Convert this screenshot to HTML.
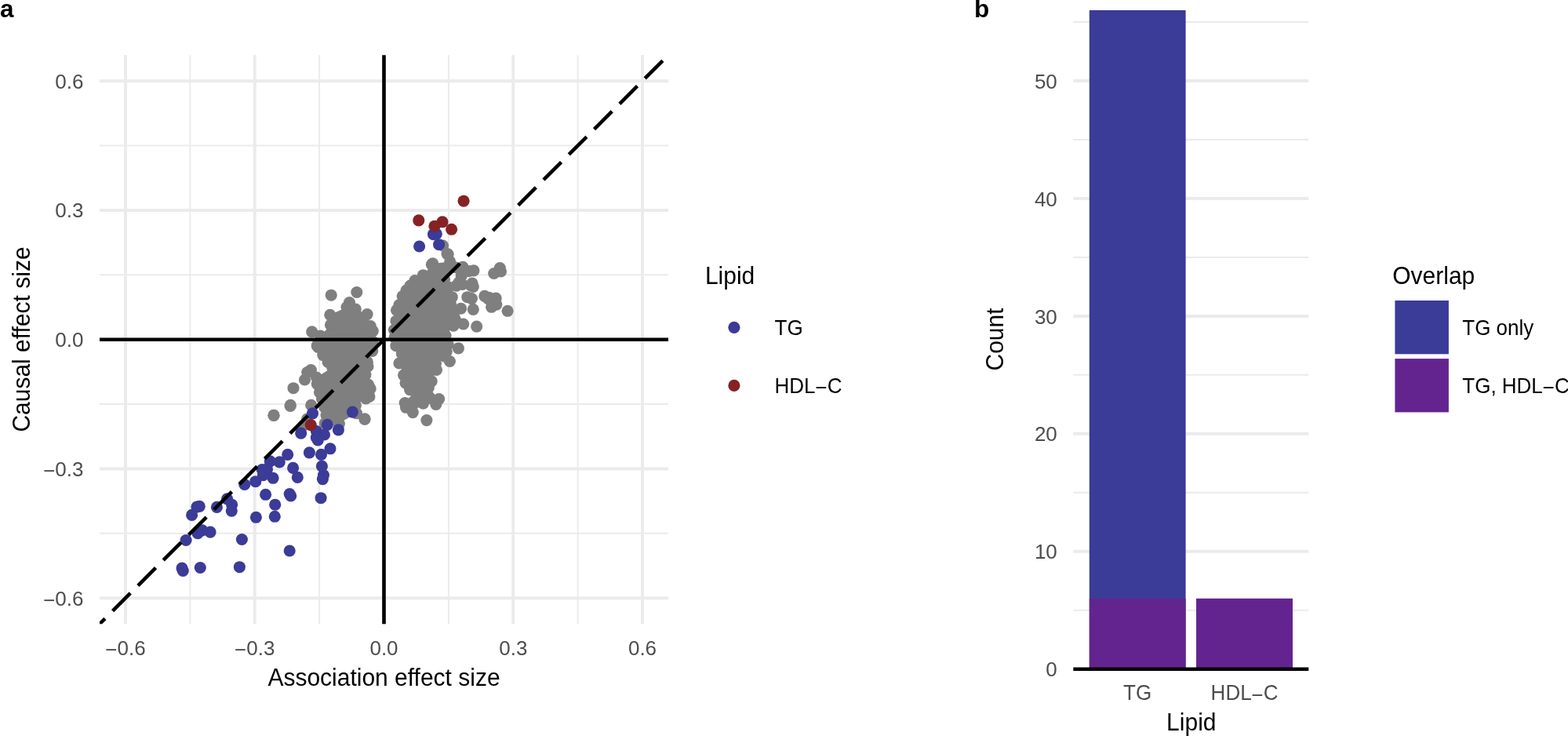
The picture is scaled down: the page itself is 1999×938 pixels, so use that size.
<!DOCTYPE html>
<html lang="en">
<head>
<meta charset="utf-8">
<title>Lipid causal vs association effect sizes</title>
<style>
html,body{margin:0;padding:0;background:#fff;}
body{width:1999px;height:938px;overflow:hidden;}
svg{display:block;}
</style>
</head>
<body>
<svg width="1999" height="938" viewBox="0 0 1999 938">
<rect width="1999" height="938" fill="#fff"/>
<g stroke="#ebebeb" fill="none">
<path d="M242.36 70.2V795.2" stroke-width="2"/>
<path d="M127.0 679.84H852.0" stroke-width="2"/>
<path d="M407.12 70.2V795.2" stroke-width="2"/>
<path d="M127.0 515.08H852.0" stroke-width="2"/>
<path d="M571.88 70.2V795.2" stroke-width="2"/>
<path d="M127.0 350.32H852.0" stroke-width="2"/>
<path d="M736.64 70.2V795.2" stroke-width="2"/>
<path d="M127.0 185.56H852.0" stroke-width="2"/>
<path d="M159.98 70.2V795.2" stroke-width="4"/>
<path d="M127.0 762.22H852.0" stroke-width="4"/>
<path d="M324.74 70.2V795.2" stroke-width="4"/>
<path d="M127.0 597.46H852.0" stroke-width="4"/>
<path d="M489.50 70.2V795.2" stroke-width="4"/>
<path d="M127.0 432.70H852.0" stroke-width="4"/>
<path d="M654.26 70.2V795.2" stroke-width="4"/>
<path d="M127.0 267.94H852.0" stroke-width="4"/>
<path d="M819.02 70.2V795.2" stroke-width="4"/>
<path d="M127.0 103.18H852.0" stroke-width="4"/>
</g>
<g fill="#7f7f7f">
<path d="M445.5 385.5L453.3 394.1L468.1 400.6L472.2 415.5L475.3 421.8L475.0 435.0L474.7 447.5L468.4 461.4L469.0 467.0L465.9 477.7L469.7 490.3L472.2 495.4L470.9 505.4L466.5 507.9L453.3 516.7L454.6 526.8L431.9 539.4L414.3 539.4L416.0 529.0L413.8 519.0L410.5 508.5L407.5 500.0L404.3 489.5L403.5 481.0L423.7 468.3L418.1 461.4L411.8 452.6L405.5 442.5L404.2 440.7L408.6 428.1L421.5 414.2L420.8 401.3L442.0 391.6Z"/>
<path d="M539.5 350.7L529.0 357.5L523.0 364.0L518.0 370.0L513.2 377.5L509.0 388.5L505.5 395.4L504.9 409.2L502.4 420.5L504.9 440.7L512.4 450.7L508.9 463.0L514.6 478.1L517.1 488.2L522.5 496.6L526.3 525.6L539.5 514.2L555.8 515.5L559.6 508.6L546.4 494.1L550.2 485.9L556.5 471.5L555.5 463.0L569.3 448.0L568.1 427.8L578.1 415.2L573.1 405.2L587.6 393.2L574.4 387.5L571.8 378.1L572.0 366.0L566.5 356.0L567.0 345.0L573.7 333.4L551.7 335.9Z"/>
<circle cx="445.5" cy="385.5" r="7.55"/>
<circle cx="453.3" cy="394.1" r="7.55"/>
<circle cx="468.1" cy="400.6" r="7.55"/>
<circle cx="472.2" cy="415.5" r="7.55"/>
<circle cx="475.3" cy="421.8" r="7.55"/>
<circle cx="475.0" cy="435.0" r="7.55"/>
<circle cx="474.7" cy="447.5" r="7.55"/>
<circle cx="468.4" cy="461.4" r="7.55"/>
<circle cx="469.0" cy="467.0" r="7.55"/>
<circle cx="465.9" cy="477.7" r="7.55"/>
<circle cx="469.7" cy="490.3" r="7.55"/>
<circle cx="472.2" cy="495.4" r="7.55"/>
<circle cx="470.9" cy="505.4" r="7.55"/>
<circle cx="466.5" cy="507.9" r="7.55"/>
<circle cx="453.3" cy="516.7" r="7.55"/>
<circle cx="454.6" cy="526.8" r="7.55"/>
<circle cx="431.9" cy="539.4" r="7.55"/>
<circle cx="414.3" cy="539.4" r="7.55"/>
<circle cx="416.0" cy="529.0" r="7.55"/>
<circle cx="413.8" cy="519.0" r="7.55"/>
<circle cx="410.5" cy="508.5" r="7.55"/>
<circle cx="407.5" cy="500.0" r="7.55"/>
<circle cx="404.3" cy="489.5" r="7.55"/>
<circle cx="403.5" cy="481.0" r="7.55"/>
<circle cx="423.7" cy="468.3" r="7.55"/>
<circle cx="418.1" cy="461.4" r="7.55"/>
<circle cx="411.8" cy="452.6" r="7.55"/>
<circle cx="405.5" cy="442.5" r="7.55"/>
<circle cx="404.2" cy="440.7" r="7.55"/>
<circle cx="408.6" cy="428.1" r="7.55"/>
<circle cx="421.5" cy="414.2" r="7.55"/>
<circle cx="420.8" cy="401.3" r="7.55"/>
<circle cx="442.0" cy="391.6" r="7.55"/>
<circle cx="539.5" cy="350.7" r="7.55"/>
<circle cx="529.0" cy="357.5" r="7.55"/>
<circle cx="523.0" cy="364.0" r="7.55"/>
<circle cx="518.0" cy="370.0" r="7.55"/>
<circle cx="513.2" cy="377.5" r="7.55"/>
<circle cx="509.0" cy="388.5" r="7.55"/>
<circle cx="505.5" cy="395.4" r="7.55"/>
<circle cx="504.9" cy="409.2" r="7.55"/>
<circle cx="502.4" cy="420.5" r="7.55"/>
<circle cx="504.9" cy="440.7" r="7.55"/>
<circle cx="512.4" cy="450.7" r="7.55"/>
<circle cx="508.9" cy="463.0" r="7.55"/>
<circle cx="514.6" cy="478.1" r="7.55"/>
<circle cx="517.1" cy="488.2" r="7.55"/>
<circle cx="522.5" cy="496.6" r="7.55"/>
<circle cx="526.3" cy="525.6" r="7.55"/>
<circle cx="539.5" cy="514.2" r="7.55"/>
<circle cx="555.8" cy="515.5" r="7.55"/>
<circle cx="559.6" cy="508.6" r="7.55"/>
<circle cx="546.4" cy="494.1" r="7.55"/>
<circle cx="550.2" cy="485.9" r="7.55"/>
<circle cx="556.5" cy="471.5" r="7.55"/>
<circle cx="555.5" cy="463.0" r="7.55"/>
<circle cx="569.3" cy="448.0" r="7.55"/>
<circle cx="568.1" cy="427.8" r="7.55"/>
<circle cx="578.1" cy="415.2" r="7.55"/>
<circle cx="573.1" cy="405.2" r="7.55"/>
<circle cx="587.6" cy="393.2" r="7.55"/>
<circle cx="574.4" cy="387.5" r="7.55"/>
<circle cx="571.8" cy="378.1" r="7.55"/>
<circle cx="572.0" cy="366.0" r="7.55"/>
<circle cx="566.5" cy="356.0" r="7.55"/>
<circle cx="567.0" cy="345.0" r="7.55"/>
<circle cx="573.7" cy="333.4" r="7.55"/>
<circle cx="551.7" cy="335.9" r="7.55"/>
<circle cx="422.2" cy="376.2" r="7.55"/>
<circle cx="454.8" cy="372.5" r="7.55"/>
<circle cx="397.7" cy="422.8" r="7.55"/>
<circle cx="391.7" cy="474.6" r="7.55"/>
<circle cx="396.4" cy="471.5" r="7.55"/>
<circle cx="388.5" cy="484.0" r="7.55"/>
<circle cx="374.0" cy="494.7" r="7.55"/>
<circle cx="370.3" cy="516.4" r="7.55"/>
<circle cx="348.9" cy="529.3" r="7.55"/>
<circle cx="396.7" cy="516.4" r="7.55"/>
<circle cx="349.1" cy="529.4" r="7.55"/>
<circle cx="370.1" cy="517.5" r="7.55"/>
<circle cx="465.1" cy="534.1" r="7.55"/>
<circle cx="391.6" cy="534.0" r="7.55"/>
<circle cx="387.6" cy="541.6" r="7.55"/>
<circle cx="464.9" cy="534.1" r="7.55"/>
<circle cx="414.8" cy="540.1" r="7.55"/>
<circle cx="432.4" cy="540.1" r="7.55"/>
<circle cx="564.6" cy="313.0" r="7.55"/>
<circle cx="571.2" cy="324.0" r="7.55"/>
<circle cx="603.9" cy="344.9" r="7.55"/>
<circle cx="637.3" cy="341.6" r="7.55"/>
<circle cx="629.7" cy="348.5" r="7.55"/>
<circle cx="638.5" cy="346.0" r="7.55"/>
<circle cx="602.0" cy="361.1" r="7.55"/>
<circle cx="603.3" cy="365.5" r="7.55"/>
<circle cx="595.8" cy="378.7" r="7.55"/>
<circle cx="601.4" cy="380.6" r="7.55"/>
<circle cx="617.8" cy="377.4" r="7.55"/>
<circle cx="622.2" cy="380.6" r="7.55"/>
<circle cx="632.2" cy="380.0" r="7.55"/>
<circle cx="632.9" cy="388.1" r="7.55"/>
<circle cx="626.6" cy="391.3" r="7.55"/>
<circle cx="603.3" cy="394.4" r="7.55"/>
<circle cx="647.1" cy="396.3" r="7.55"/>
<circle cx="607.7" cy="416.1" r="7.55"/>
<circle cx="590.7" cy="413.0" r="7.55"/>
<circle cx="584.4" cy="443.9" r="7.55"/>
<circle cx="573.4" cy="460.5" r="7.55"/>
<circle cx="516.2" cy="513.6" r="7.55"/>
<circle cx="517.5" cy="519.3" r="7.55"/>
<circle cx="543.9" cy="535.6" r="7.55"/>
<circle cx="566.8" cy="454.2" r="7.55"/>
<circle cx="550.4" cy="337.2" r="7.55"/>
<circle cx="570.0" cy="323.6" r="7.55"/>
<circle cx="581.9" cy="364.2" r="7.55"/>
<circle cx="588.2" cy="351.7" r="7.55"/>
<circle cx="590.1" cy="340.3" r="7.55"/>
<circle cx="584.9" cy="360.0" r="7.55"/>
<circle cx="600.5" cy="364.0" r="7.55"/>
<circle cx="623.3" cy="379.2" r="7.55"/>
<circle cx="597.6" cy="345.6" r="7.55"/>
<circle cx="589.5" cy="362.5" r="7.55"/>
<circle cx="580.0" cy="340.8" r="7.55"/>
<circle cx="576.3" cy="378.7" r="7.55"/>
<circle cx="578.8" cy="399.2" r="7.55"/>
<circle cx="580.5" cy="407.7" r="7.55"/>
<circle cx="503.0" cy="430.0" r="7.55"/>
<circle cx="571.2" cy="438.8" r="7.55"/>
<circle cx="526.9" cy="512.1" r="7.55"/>
</g>
<g fill="#3b3b98">
<circle cx="552.5" cy="298.7" r="7.55"/>
<circle cx="556.3" cy="298.2" r="7.55"/>
<circle cx="534.6" cy="314.0" r="7.55"/>
<circle cx="559.6" cy="311.7" r="7.55"/>
<circle cx="398.5" cy="526.8" r="7.55"/>
<circle cx="449.4" cy="525.1" r="7.55"/>
<circle cx="417.3" cy="541.4" r="7.55"/>
<circle cx="431.4" cy="547.9" r="7.55"/>
<circle cx="383.7" cy="552.1" r="7.55"/>
<circle cx="403.4" cy="549.6" r="7.55"/>
<circle cx="413.5" cy="554.0" r="7.55"/>
<circle cx="403.4" cy="557.7" r="7.55"/>
<circle cx="405.3" cy="560.9" r="7.55"/>
<circle cx="421.0" cy="571.8" r="7.55"/>
<circle cx="394.4" cy="576.9" r="7.55"/>
<circle cx="409.5" cy="579.4" r="7.55"/>
<circle cx="366.7" cy="579.4" r="7.55"/>
<circle cx="356.3" cy="588.9" r="7.55"/>
<circle cx="344.3" cy="587.9" r="7.55"/>
<circle cx="410.4" cy="594.2" r="7.55"/>
<circle cx="373.6" cy="596.4" r="7.55"/>
<circle cx="334.2" cy="598.6" r="7.55"/>
<circle cx="340.5" cy="598.0" r="7.55"/>
<circle cx="335.5" cy="605.6" r="7.55"/>
<circle cx="348.1" cy="609.3" r="7.55"/>
<circle cx="379.3" cy="608.4" r="7.55"/>
<circle cx="412.5" cy="605.6" r="7.55"/>
<circle cx="411.4" cy="610.6" r="7.55"/>
<circle cx="325.8" cy="613.7" r="7.55"/>
<circle cx="311.8" cy="617.5" r="7.55"/>
<circle cx="338.6" cy="630.3" r="7.55"/>
<circle cx="369.2" cy="629.5" r="7.55"/>
<circle cx="370.7" cy="632.0" r="7.55"/>
<circle cx="409.1" cy="634.7" r="7.55"/>
<circle cx="289.6" cy="635.8" r="7.55"/>
<circle cx="250.9" cy="646.1" r="7.55"/>
<circle cx="254.3" cy="645.3" r="7.55"/>
<circle cx="244.6" cy="656.4" r="7.55"/>
<circle cx="276.4" cy="646.4" r="7.55"/>
<circle cx="295.6" cy="643.2" r="7.55"/>
<circle cx="295.3" cy="651.1" r="7.55"/>
<circle cx="326.4" cy="659.3" r="7.55"/>
<circle cx="350.3" cy="658.3" r="7.55"/>
<circle cx="350.7" cy="643.2" r="7.55"/>
<circle cx="252.1" cy="679.7" r="7.55"/>
<circle cx="257.8" cy="675.9" r="7.55"/>
<circle cx="268.1" cy="678.1" r="7.55"/>
<circle cx="237.1" cy="688.5" r="7.55"/>
<circle cx="308.4" cy="687.5" r="7.55"/>
<circle cx="369.2" cy="702.0" r="7.55"/>
<circle cx="232.0" cy="724.1" r="7.55"/>
<circle cx="233.3" cy="727.5" r="7.55"/>
<circle cx="255.3" cy="723.5" r="7.55"/>
<circle cx="305.4" cy="722.7" r="7.55"/>
</g>
<g fill="#862224">
<circle cx="591.1" cy="256.2" r="7.55"/>
<circle cx="533.8" cy="280.9" r="7.55"/>
<circle cx="564.0" cy="282.8" r="7.55"/>
<circle cx="554.0" cy="288.2" r="7.55"/>
<circle cx="575.6" cy="292.3" r="7.55"/>
<circle cx="396.2" cy="541.6" r="7.55"/>
</g>
<clipPath id="pa"><rect x="127.0" y="70.2" width="725.0" height="725.0"/></clipPath>
<path d="M107.0 815.2L852.0 70.2" clip-path="url(#pa)" stroke="#000" stroke-width="4.6" stroke-dasharray="32 13.7" stroke-dashoffset="39.62" fill="none"/>
<path d="M127.0 432.70H852.0M489.50 70.2V795.2" stroke="#000" stroke-width="4.6" fill="none"/>
<g font-family="'Liberation Sans', sans-serif">
<text x="0" y="22.2" font-size="31.5" font-weight="bold" fill="#000">a</text>
<text x="1242" y="22.2" font-size="31.5" font-weight="bold" fill="#000">b</text>
<g font-size="26" fill="#4d4d4d">
<text transform="translate(106.5 112.6) scale(1 1.02)" text-anchor="end">0.6</text>
<text transform="translate(106.5 277.3) scale(1 1.02)" text-anchor="end">0.3</text>
<text transform="translate(106.5 442.1) scale(1 1.02)" text-anchor="end">0.0</text>
<text transform="translate(106.5 606.9) scale(1 1.02)" text-anchor="end"><tspan dy="2.1">−</tspan><tspan dy="-2.1">0.3</tspan></text>
<text transform="translate(106.5 771.6) scale(1 1.02)" text-anchor="end"><tspan dy="2.1">−</tspan><tspan dy="-2.1">0.6</tspan></text>
<text transform="translate(160.0 835.3) scale(1 1.02)" text-anchor="middle"><tspan dy="2.1">−</tspan><tspan dy="-2.1">0.6</tspan></text>
<text transform="translate(324.7 835.3) scale(1 1.02)" text-anchor="middle"><tspan dy="2.1">−</tspan><tspan dy="-2.1">0.3</tspan></text>
<text transform="translate(489.5 835.3) scale(1 1.02)" text-anchor="middle">0.0</text>
<text transform="translate(654.3 835.3) scale(1 1.02)" text-anchor="middle">0.3</text>
<text transform="translate(819.0 835.3) scale(1 1.02)" text-anchor="middle">0.6</text>
</g>
<g font-size="30" fill="#000">
<text transform="translate(489.5 874) scale(1 1.02)" text-anchor="middle">Association effect size</text>
<text transform="translate(37.8 432.5) rotate(-90) scale(1 1.03)" text-anchor="middle">Causal effect size</text>
<text transform="translate(898.9 362) scale(1 1.03)">Lipid</text>
</g>
<g font-size="26" fill="#000">
<text transform="translate(987.5 426.6) scale(1 1.04)">TG</text>
<text transform="translate(987.5 500.7) scale(1 1.04)">HDL<tspan dy="2.1">−</tspan><tspan dy="-2.1">C</tspan></text>
</g>
</g>
<circle cx="935.9" cy="417.3" r="7.6" fill="#3b3b98"/>
<circle cx="935.9" cy="491.4" r="7.6" fill="#862224"/>
<g stroke="#ebebeb" fill="none">
<path d="M1368.3 777.73H1668.3" stroke-width="2"/>
<path d="M1368.3 627.79H1668.3" stroke-width="2"/>
<path d="M1368.3 477.85H1668.3" stroke-width="2"/>
<path d="M1368.3 327.91H1668.3" stroke-width="2"/>
<path d="M1368.3 177.97H1668.3" stroke-width="2"/>
<path d="M1368.3 28.03H1668.3" stroke-width="2"/>
<path d="M1368.3 702.76H1668.3" stroke-width="4"/>
<path d="M1368.3 552.82H1668.3" stroke-width="4"/>
<path d="M1368.3 402.88H1668.3" stroke-width="4"/>
<path d="M1368.3 252.94H1668.3" stroke-width="4"/>
<path d="M1368.3 103.00H1668.3" stroke-width="4"/>
</g>
<rect x="1388.8" y="13.04" width="122.8" height="839.66" fill="#3b3b98"/>
<rect x="1388.8" y="763" width="122.8" height="89.70" fill="#63248f"/>
<rect x="1525.0" y="762.74" width="123.0" height="89.96" fill="#63248f"/>
<path d="M1368.3 852.7H1668.3" stroke="#000" stroke-width="4.6" fill="none"/>
<g font-family="'Liberation Sans', sans-serif">
<g font-size="26" fill="#4d4d4d">
<text transform="translate(1347.8 862.3) scale(1 1.02)" text-anchor="end">0</text>
<text transform="translate(1347.8 712.4) scale(1 1.02)" text-anchor="end">10</text>
<text transform="translate(1347.8 562.4) scale(1 1.02)" text-anchor="end">20</text>
<text transform="translate(1347.8 412.5) scale(1 1.02)" text-anchor="end">30</text>
<text transform="translate(1347.8 262.5) scale(1 1.02)" text-anchor="end">40</text>
<text transform="translate(1347.8 112.6) scale(1 1.02)" text-anchor="end">50</text>
<text transform="translate(1450.1 892.4) scale(1 1.04)" text-anchor="middle">TG</text>
<text transform="translate(1586.6 892.4) scale(1 1.04)" text-anchor="middle">HDL<tspan dy="2.1">−</tspan><tspan dy="-2.1">C</tspan></text>
</g>
<g font-size="30" fill="#000">
<text transform="translate(1518.8 931.4) scale(1 1.03)" text-anchor="middle">Lipid</text>
<text transform="translate(1279 432.5) rotate(-90) scale(1 1.04)" text-anchor="middle">Count</text>
<text transform="translate(1775.3 362) scale(1 1.03)">Overlap</text>
</g>
<g font-size="26" fill="#000">
<text transform="translate(1864.3 426.6) scale(1 1.04)">TG only</text>
<text transform="translate(1864.3 500.7) scale(1 1.04)">TG, HDL<tspan dy="2.1">−</tspan><tspan dy="-2.1">C</tspan></text>
</g>
</g>
<rect x="1778.4" y="383" width="68.5" height="68.3" fill="#3b3b98"/>
<rect x="1778.4" y="457.1" width="68.5" height="68.3" fill="#63248f"/>
</svg>
</body>
</html>
